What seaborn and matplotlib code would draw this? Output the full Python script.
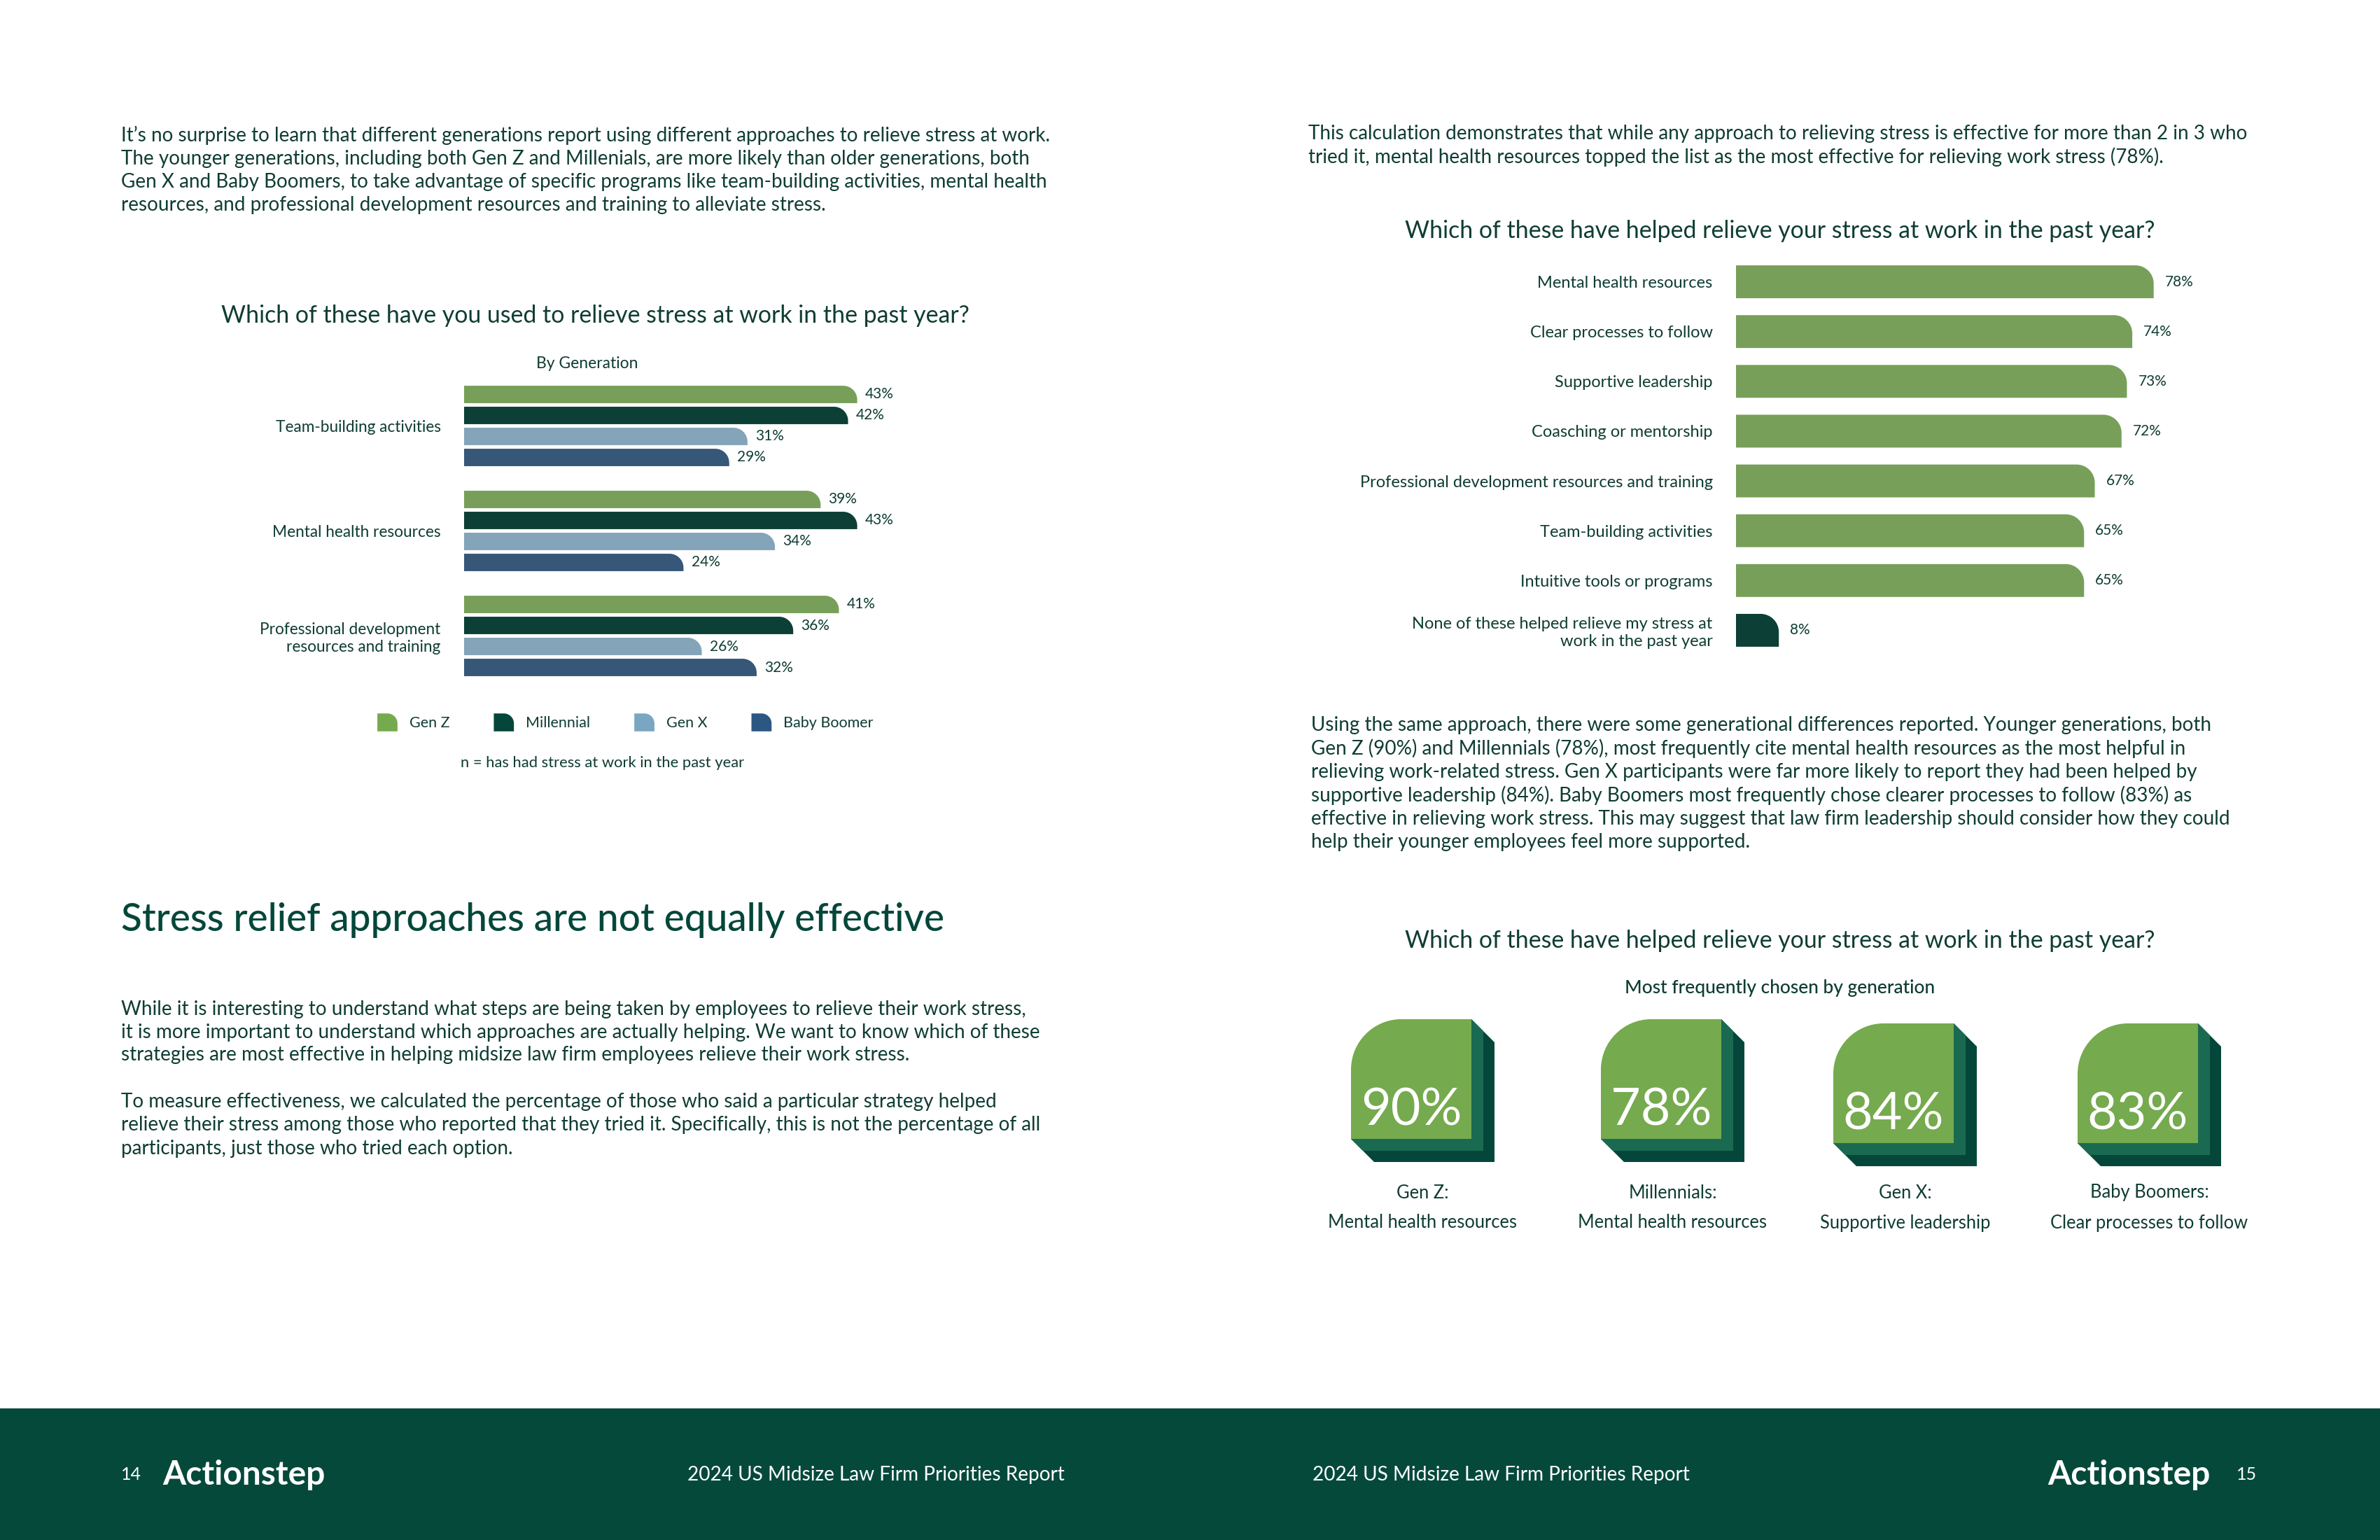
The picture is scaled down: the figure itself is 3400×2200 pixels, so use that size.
import pandas as pd
import numpy as np
import matplotlib
matplotlib.use("Agg")
import matplotlib.pyplot as plt
import seaborn as sns
from matplotlib.path import Path
from matplotlib.patches import PathPatch, Patch, Rectangle, Polygon
from matplotlib.legend_handler import HandlerPatch

# ---- data ----
approaches_used = ["Team-building activities", "Mental health resources",
                   "Professional development\nresources and training"]
generations = ["Gen Z", "Millennial", "Gen X", "Baby Boomer"]
gen_z = [43, 39, 41]
millennial = [42, 43, 36]
gen_x = [31, 34, 26]
baby_boomer = [29, 24, 32]

helped_labels = ["Mental health resources", "Clear processes to follow", "Supportive leadership",
                 "Coasching or mentorship", "Professional development resources and training",
                 "Team-building activities", "Intuitive tools or programs",
                 "None of these helped relieve my stress at\nwork in the past year"]
helped_values = [78, 74, 73, 72, 67, 65, 65, 8]

badge_values = ["90%", "78%", "84%", "83%"]
badge_gens = ["Gen Z:", "Millennials:", "Gen X:", "Baby Boomers:"]
badge_items = ["Mental health resources", "Mental health resources",
               "Supportive leadership", "Clear processes to follow"]

# ---- colours ----
GREEN = "#75AA4E"
DARK = "#04473A"
LIGHTBLUE = "#7AA6C2"
NAVY = "#2B5782"
MID = "#1A6A51"
TEXT = "#0F3D33"
FOOTER = "#05493B"
gen_colors = [GREEN, DARK, LIGHTBLUE, NAVY]

sns.set_theme(style="white")
plt.rcParams["font.family"] = ["Lato", "DejaVu Sans"]
plt.rcParams["text.color"] = TEXT

W, H = 3400, 2200
fig = plt.figure(figsize=(W / 100, H / 100), dpi=100)
fig.patch.set_facecolor("white")

# page layer in pixel coordinates (y downwards)
page = fig.add_axes([0, 0, 1, 1], zorder=0)
page.set_xlim(0, W)
page.set_ylim(H, 0)
page.axis("off")

K = 0.5523


def round_bars(ax, r):
    # replace seaborn's rectangles with bars whose top-right corner is rounded
    for p in list(ax.patches):
        if not isinstance(p, Rectangle) or not p.get_visible():
            continue
        pts = ax.transData.transform([(p.get_x(), p.get_y()),
                                      (p.get_x() + p.get_width(), p.get_y() + p.get_height())])
        xa, xb = sorted(pts[:, 0])
        ya, yb = sorted(pts[:, 1])
        rr = min(r, yb - ya, xb - xa)
        verts = [(xa, ya), (xb, ya), (xb, yb - rr), (xb, yb - rr + K * rr),
                 (xb - rr + K * rr, yb), (xb - rr, yb), (xa, yb), (xa, ya)]
        codes = [Path.MOVETO, Path.LINETO, Path.LINETO, Path.CURVE4, Path.CURVE4,
                 Path.CURVE4, Path.LINETO, Path.CLOSEPOLY]
        dv = ax.transData.inverted().transform(verts)
        ax.add_patch(PathPatch(Path(dv, codes), facecolor=p.get_facecolor(),
                               edgecolor="none", zorder=p.get_zorder()))
        p.set_visible(False)


def legend_patch(legend, orig_handle, xdescent, ydescent, width, height, fontsize):
    x0, y0 = -xdescent, -ydescent
    x1, y1 = x0 + width, y0 + height
    r = 0.5 * width
    verts = [(x0, y0), (x1, y0), (x1, y1 - r), (x1, y1 - r + K * r),
             (x1 - r + K * r, y1), (x1 - r, y1), (x0, y1), (x0, y0)]
    codes = [Path.MOVETO, Path.LINETO, Path.LINETO, Path.CURVE4, Path.CURVE4,
             Path.CURVE4, Path.LINETO, Path.CLOSEPOLY]
    return PathPatch(Path(verts, codes))


def style_axis(ax):
    ax.set_facecolor("none")
    for s in ax.spines.values():
        s.set_visible(False)
    ax.set_xticks([])
    ax.set_xlabel("")
    ax.set_ylabel("")
    ax.tick_params(axis="y", length=0, pad=24, colors=TEXT)


# ---- left chart: used by generation ----
df_used = pd.DataFrame({
    "approach": approaches_used * 4,
    "generation": sum([[g] * 3 for g in generations], []),
    "value": gen_z + millennial + gen_x + baby_boomer,
})
ax1 = fig.add_axes([663 / W, 1 - 983.5 / H, 653 / W, 450 / H], zorder=2)
sns.barplot(data=df_used, y="approach", x="value", hue="generation", hue_order=generations,
            palette=gen_colors, orient="h", width=0.8, gap=0.17, legend=False, ax=ax1)
ax1.set_xlim(0, 50)
ax1.set_ylim(2.5, -0.5)
style_axis(ax1)
for lbl in ax1.get_yticklabels():
    lbl.set_fontsize(16.3)
for c in ax1.containers:
    ax1.bar_label(c, labels=[f"{v:.0f}%" for v in c.datavalues], padding=8,
                  fontsize=15, color=TEXT)
round_bars(ax1, 20)

handles = [Patch(facecolor=c, label=g) for g, c in zip(generations, gen_colors)]
fig.legend(handles=handles, loc="center", bbox_to_anchor=(893 / W, 1 - 1032 / H), ncol=4,
           frameon=False, fontsize=15.5, handlelength=1.4, handleheight=1.55,
           handletextpad=0.75, columnspacing=2.9, borderpad=0,
           handler_map={Patch: HandlerPatch(patch_func=legend_patch)})

# ---- right chart: helped ----
ax2 = fig.add_axes([2480 / W, 1 - 936 / H, 765 / W, 569 / H], zorder=2)
bar_colors = [GREEN] * 7 + [DARK]
sns.barplot(x=helped_values, y=helped_labels, hue=helped_labels, palette=bar_colors,
            orient="h", width=0.66, legend=False, ax=ax2)
ax2.set_xlim(0, 100)
ax2.set_ylim(7.5, -0.5)
style_axis(ax2)
for lbl in ax2.get_yticklabels():
    lbl.set_fontsize(17)
for c in ax2.containers:
    ax2.bar_label(c, labels=[f"{v:.0f}%" for v in c.datavalues], padding=11.5,
                  fontsize=15, color=TEXT)
round_bars(ax2, 26)

# ---- text blocks ----
def lines(x, y0, pitch, rows, size=20.1):
    for i, t in enumerate(rows):
        page.text(x, y0 + i * pitch, t, fontsize=size, color=TEXT, ha="left", va="center")


lines(173, 193, 33.5, [
    "It’s no surprise to learn that different generations report using different approaches to relieve stress at work.",
    "The younger generations, including both Gen Z and Millenials, are more likely than older generations, both",
    "Gen X and Baby Boomers, to take advantage of specific programs like team-building activities, mental health",
    "resources, and professional development resources and training to alleviate stress."])
lines(1869, 191, 33, [
    "This calculation demonstrates that while any approach to relieving stress is effective for more than 2 in 3 who",
    "tried it, mental health resources topped the list as the most effective for relieving work stress (78%)."])
lines(1873, 1036, 33.4, [
    "Using the same approach, there were some generational differences reported. Younger generations, both",
    "Gen Z (90%) and Millennials (78%), most frequently cite mental health resources as the most helpful in",
    "relieving work-related stress. Gen X participants were far more likely to report they had been helped by",
    "supportive leadership (84%). Baby Boomers most frequently chose clearer processes to follow (83%) as",
    "effective in relieving work stress. This may suggest that law firm leadership should consider how they could",
    "help their younger employees feel more supported."])
lines(173, 1442, 32.5, [
    "While it is interesting to understand what steps are being taken by employees to relieve their work stress,",
    "it is more important to understand which approaches are actually helping. We want to know which of these",
    "strategies are most effective in helping midsize law firm employees relieve their work stress."])
lines(173, 1574, 33.5, [
    "To measure effectiveness, we calculated the percentage of those who said a particular strategy helped",
    "relieve their stress among those who reported that they tried it. Specifically, this is not the percentage of all",
    "participants, just those who tried each option."])

page.text(173, 1314, "Stress relief approaches are not equally effective", fontsize=39.5,
          color=DARK, ha="left", va="center", fontweight="medium")

page.text(850, 451, "Which of these have you used to relieve stress at work in the past year?",
          fontsize=24.4, color=TEXT, ha="center", va="center")
page.text(839, 520, "By Generation", fontsize=16.5, color=TEXT, ha="center", va="center")
page.text(861, 1090, "n = has had stress at work in the past year", fontsize=15.8,
          color=TEXT, ha="center", va="center")

page.text(2543, 330, "Which of these have helped relieve your stress at work in the past year?",
          fontsize=24.4, color=TEXT, ha="center", va="center")
page.text(2543, 1344, "Which of these have helped relieve your stress at work in the past year?",
          fontsize=24.4, color=TEXT, ha="center", va="center")
page.text(2543, 1411, "Most frequently chosen by generation", fontsize=19, color=TEXT,
          ha="center", va="center", fontweight="medium")

# ---- badges ----
badge_x = [1930, 2287, 2619, 2968]
badge_y = [1456, 1456, 1462, 1462]
bw, bh, br = 172, 171, 72
for x0, y0, val, gen, item in zip(badge_x, badge_y, badge_values, badge_gens, badge_items):
    for d, col in [(33, DARK), (17, MID)]:
        page.add_patch(Polygon([(x0 + bw, y0), (x0 + bw + d, y0 + d), (x0 + bw + d, y0 + bh + d),
                                (x0 + d, y0 + bh + d), (x0, y0 + bh)],
                               closed=True, facecolor=col, edgecolor="none"))
    verts = [(x0, y0 + br), (x0, y0 + br - K * br), (x0 + br - K * br, y0), (x0 + br, y0),
             (x0 + bw, y0), (x0 + bw, y0 + bh), (x0, y0 + bh), (x0, y0 + br)]
    codes = [Path.MOVETO, Path.CURVE4, Path.CURVE4, Path.CURVE4, Path.LINETO, Path.LINETO,
             Path.LINETO, Path.CLOSEPOLY]
    page.add_patch(PathPatch(Path(verts, codes), facecolor=GREEN, edgecolor="none"))
    page.text(x0 + bw / 2, y0 + bh - 20, val, fontsize=53, color="white", ha="center",
              va="baseline")
    cx = x0 + (bw + 33) / 2
    page.text(cx, 1704, gen, fontsize=18.4, color=TEXT, ha="center", va="center")
    page.text(cx, 1747, item, fontsize=18.4, color=TEXT, ha="center", va="center")

# ---- footer ----
page.add_patch(Rectangle((0, 2012), W, H - 2012, facecolor=FOOTER, edgecolor="none"))
page.text(173, 2107, "14", fontsize=18, color="white", ha="left", va="center")
page.text(232, 2107, "Actionstep", fontsize=34.5, color="white", ha="left", va="center",
          fontweight="bold")
page.text(982, 2107, "2024 US Midsize Law Firm Priorities Report", fontsize=20.2, color="white",
          ha="left", va="center")
page.text(1875, 2107, "2024 US Midsize Law Firm Priorities Report", fontsize=20.2, color="white",
          ha="left", va="center")
page.text(2925, 2107, "Actionstep", fontsize=34.5, color="white", ha="left", va="center",
          fontweight="bold")
page.text(3224, 2107, "15", fontsize=18, color="white", ha="right", va="center")

fig.savefig("out.png", dpi=100, facecolor="white")
